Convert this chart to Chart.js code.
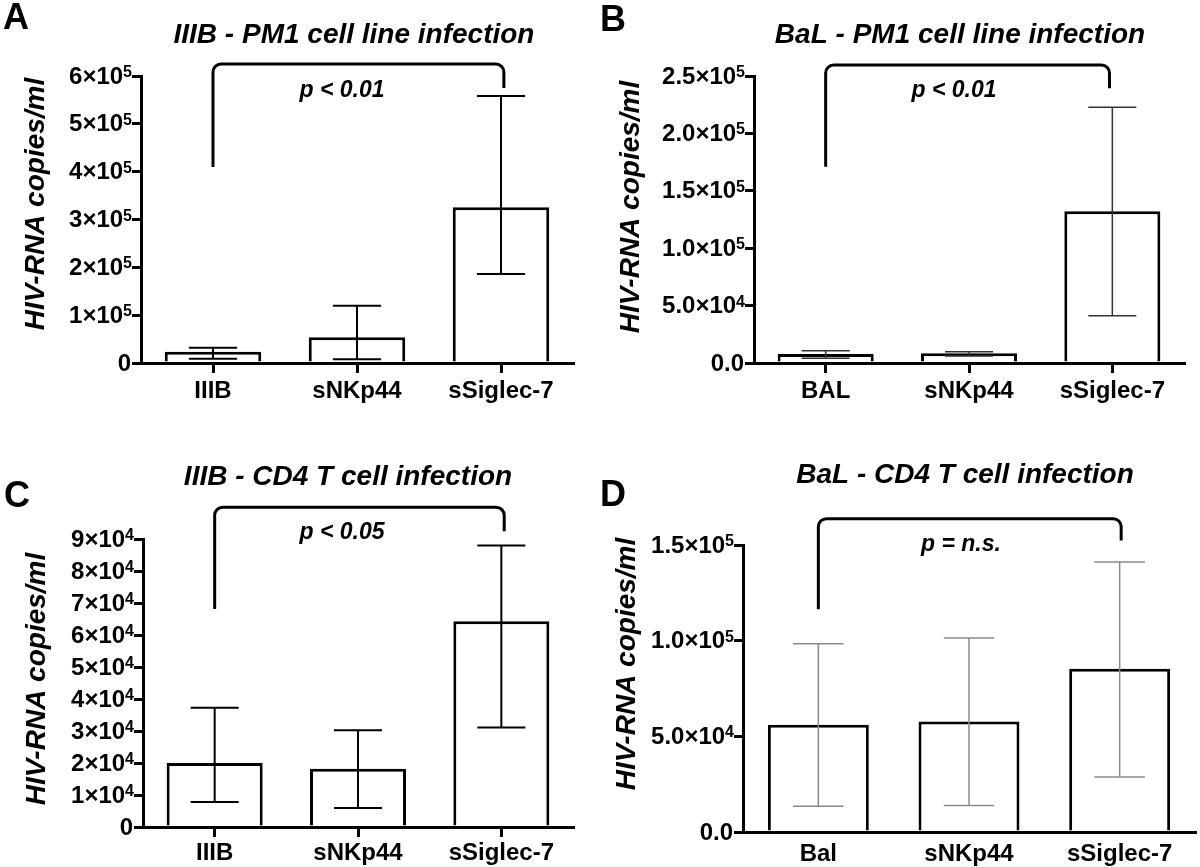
<!DOCTYPE html>
<html>
<head>
<meta charset="utf-8">
<script src="https://cdn.jsdelivr.net/npm/chart.js@4.4.1/dist/chart.umd.min.js"></script>
<style>
  body { margin: 0; background: #fff; width: 1200px; height: 867px; position: relative; overflow: hidden; }
  .panel { position: absolute; }
</style>
</head>
<body>
<div class="panel" style="left:0;top:0"><canvas id="chartA" width="600" height="433"></canvas></div>
<div class="panel" style="left:600px;top:0"><canvas id="chartB" width="600" height="433"></canvas></div>
<div class="panel" style="left:0;top:433px"><canvas id="chartC" width="600" height="434"></canvas></div>
<div class="panel" style="left:600px;top:433px"><canvas id="chartD" width="600" height="434"></canvas></div>
<script>
// Werte (Mittelwert, untere/obere Fehlergrenze)
const catsA = ["IIIB", "sNKp44", "sSiglec-7"];
const meanA = [23600, 53700, 325500];
const lowA = [9000, 7700, 186100];
const highA = [32000, 119800, 558200];
const ticksA = [0, 1e5, 2e5, 3e5, 4e5, 5e5, 6e5];
const tickLabelsA = ["0", "1×10^5", "2×10^5", "3×10^5", "4×10^5", "5×10^5", "6×10^5"];
const bracketA = [0, 2.02, 625000, 410000, 575000];

const catsB = ["BAL", "sNKp44", "sSiglec-7"];
const meanB = [7840, 8450, 132100];
const lowB = [4100, 6100, 41200];
const highB = [10700, 9800, 222700];
const ticksB = [0, 5e4, 1e5, 1.5e5, 2e5, 2.5e5];
const tickLabelsB = ["0.0", "5.0×10^4", "1.0×10^5", "1.5×10^5", "2.0×10^5", "2.5×10^5"];
const bracketB = [0, 1.98, 259600, 171000, 239300];

const catsC = ["IIIB", "sNKp44", "sSiglec-7"];
const meanC = [20000, 18200, 64300];
const lowC = [7800, 5900, 31100];
const highC = [37300, 30200, 88000];
const ticksC = [0, 1e4, 2e4, 3e4, 4e4, 5e4, 6e4, 7e4, 8e4, 9e4];
const tickLabelsC = ["0", "1×10^4", "2×10^4", "3×10^4", "4×10^4", "5×10^4", "6×10^4", "7×10^4", "8×10^4", "9×10^4"];
const bracketC = [0, 2.02, 99900, 68100, 92400];

const catsD = ["Bal", "sNKp44", "sSiglec-7"];
const meanD = [56100, 57800, 85300];
const lowD = [13500, 13900, 28800];
const highD = [98400, 101400, 141100];
const ticksD = [0, 5e4, 1e5, 1.5e5];
const tickLabelsD = ["0.0", "5.0×10^4", "1.0×10^5", "1.5×10^5"];
const bracketD = [0, 2.01, 163750, 116400, 152400];

const FONT = "'Liberation Sans', Arial, Helvetica, sans-serif";

// Titel, Buchstabe, Klammer mit p-Wert, Fehlerbalken und y-Beschriftung mit Hochzahl
const decorPlugin = {
  id: "decor",
  afterDatasetsDraw(chart, args, o) {
    const ctx = chart.ctx;
    const ys = chart.scales.y;
    const meta = chart.getDatasetMeta(0);
    ctx.save();
    ctx.strokeStyle = o.errColor;
    ctx.lineWidth = o.errWidth;
    meta.data.forEach((bar, i) => {
      const yl = ys.getPixelForValue(o.low[i]);
      const yh = ys.getPixelForValue(o.high[i]);
      const half = bar.width / 4;
      ctx.beginPath();
      ctx.moveTo(bar.x, yl);
      ctx.lineTo(bar.x, yh);
      ctx.moveTo(bar.x - half, yl);
      ctx.lineTo(bar.x + half, yl);
      ctx.moveTo(bar.x - half, yh);
      ctx.lineTo(bar.x + half, yh);
      ctx.stroke();
    });
    ctx.restore();
  },
  afterDraw(chart, args, o) {
    const ctx = chart.ctx;
    const xs = chart.scales.x;
    const ys = chart.scales.y;
    ctx.save();
    ctx.fillStyle = "#000";

    // y-Achsenbeschriftung
    const xr = ys.right - 10;
    ys.ticks.forEach((t, i) => {
      const y = ys.getPixelForValue(t.value);
      const parts = o.tickLabels[i].split("^");
      let x = xr;
      ctx.textAlign = "right";
      if (parts.length > 1) {
        ctx.font = "bold 16px " + FONT;
        ctx.textBaseline = "alphabetic";
        ctx.fillText(parts[1], x + 1, y + 1);
        x -= ctx.measureText(parts[1]).width - 1;
      }
      ctx.font = "bold 24px " + FONT;
      ctx.textBaseline = "middle";
      ctx.fillText(parts[0], x, y + 1);
    });

    // Panel-Buchstabe
    ctx.font = "bold 36px " + FONT;
    ctx.textAlign = "left";
    ctx.textBaseline = "middle";
    ctx.fillText(o.letter, o.letterPos[0], o.letterPos[1]);
    // Titel
    ctx.font = "italic bold 28px " + FONT;
    ctx.textAlign = "center";
    ctx.fillText(o.title, o.titlePos[0], o.titlePos[1]);
    // y-Achsentitel
    ctx.save();
    ctx.translate(o.yTitlePos[0], o.yTitlePos[1]);
    ctx.rotate(-Math.PI / 2);
    ctx.fillText("HIV-RNA copies/ml", 0, 0);
    ctx.restore();
    // Klammer
    const b = o.bracket;
    const x1 = xs.getPixelForValue(b[0]);
    const x2 = xs.getPixelForValue(b[1]);
    const yt = ys.getPixelForValue(b[2]);
    const y1 = ys.getPixelForValue(b[3]);
    const y2 = ys.getPixelForValue(b[4]);
    const r = 8;
    ctx.strokeStyle = "#000";
    ctx.lineWidth = 3;
    ctx.beginPath();
    ctx.moveTo(x1, y1);
    ctx.arcTo(x1, yt, x2, yt, r);
    ctx.arcTo(x2, yt, x2, y2, r);
    ctx.lineTo(x2, y2);
    ctx.stroke();
    // p-Wert
    ctx.font = "italic bold 23px " + FONT;
    ctx.fillText(o.pText, o.pPos[0], o.pPos[1]);
    ctx.restore();
  },
};

function makeChart(id, cats, mean, low, high, ticks, tickLabels, bracket, geo, deco) {
  return new Chart(document.getElementById(id).getContext("2d"), {
    type: "bar",
    data: {
      labels: cats,
      datasets: [
        {
          data: mean,
          backgroundColor: "#fff",
          borderColor: "#000",
          borderWidth: 3,
          borderSkipped: "start",
          barPercentage: 0.67,
          categoryPercentage: 1,
        },
      ],
    },
    options: {
      responsive: false,
      animation: false,
      events: [],
      layout: { padding: { top: geo.top, right: geo.right, left: 0, bottom: 0 } },
      plugins: {
        legend: { display: false },
        tooltip: { enabled: false },
        decor: Object.assign({ low: low, high: high, bracket: bracket, tickLabels: tickLabels }, deco),
      },
      scales: {
        x: {
          offset: true,
          afterFit: (s) => { s.height = geo.xHeight; },
          grid: {
            offset: false,
            drawOnChartArea: false,
            drawTicks: geo.xTicks,
            tickLength: geo.xTicks ? 10 : 0,
            lineWidth: 3,
            color: "#000",
          },
          border: { display: true, color: "#000", width: 3 },
          ticks: {
            color: "#000",
            padding: geo.xPad,
            font: { family: FONT, size: 24, weight: "bold" },
            maxRotation: 0,
            autoSkip: false,
          },
        },
        y: {
          min: ticks[0],
          max: ticks[ticks.length - 1],
          afterFit: (s) => { s.width = geo.left; },
          afterBuildTicks: (s) => { s.ticks = ticks.map((v) => ({ value: v })); },
          grid: {
            drawOnChartArea: false,
            drawTicks: true,
            tickLength: 9,
            lineWidth: 3,
            color: "#000",
          },
          border: { display: true, color: "#000", width: 3 },
          ticks: { display: false },
        },
      },
    },
    plugins: [decorPlugin],
  });
}

makeChart("chartA", catsA, meanA, lowA, highA, ticksA, tickLabelsA, bracketA,
  { top: 76, right: 27, left: 141, xHeight: 70, xTicks: true, xPad: 4 },
  { letter: "A", letterPos: [3, 19], title: "IIIB - PM1 cell line infection", titlePos: [354, 35],
    yTitlePos: [36, 204], pText: "p < 0.01", pPos: [342, 91], errColor: "#000", errWidth: 2 });

makeChart("chartB", catsB, meanB, lowB, highB, ticksB, tickLabelsB, bracketB,
  { top: 76, right: 16, left: 154, xHeight: 70, xTicks: true, xPad: 4 },
  { letter: "B", letterPos: [0, 21], title: "BaL - PM1 cell line infection", titlePos: [360, 35],
    yTitlePos: [31, 207], pText: "p < 0.01", pPos: [354, 91], errColor: "#333", errWidth: 1.5 });

makeChart("chartC", catsC, meanC, lowC, highC, ticksC, tickLabelsC, bracketC,
  { top: 106, right: 27, left: 143, xHeight: 40, xTicks: true, xPad: 2 },
  { letter: "C", letterPos: [4, 64], title: "IIIB - CD4 T cell infection", titlePos: [348, 44],
    yTitlePos: [37, 246], pText: "p < 0.05", pPos: [342, 100], errColor: "#000", errWidth: 2 });

makeChart("chartD", catsD, meanD, lowD, highD, ticksD, tickLabelsD, bracketD,
  { top: 112, right: 5, left: 143, xHeight: 35, xTicks: false, xPad: 8 },
  { letter: "D", letterPos: [0, 63], title: "BaL - CD4 T cell infection", titlePos: [365, 42],
    yTitlePos: [27, 231], pText: "p = n.s.", pPos: [361, 112], errColor: "#8a8a8a", errWidth: 1.5 });
</script>
</body>
</html>
